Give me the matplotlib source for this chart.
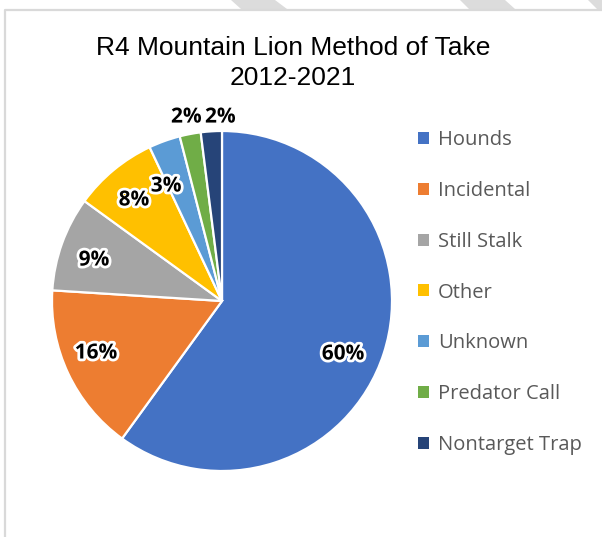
import matplotlib
matplotlib.use("Agg")
import matplotlib.pyplot as plt
import matplotlib.patheffects as pe
from matplotlib.patches import Polygon, Patch
from matplotlib.lines import Line2D

methods = ["Hounds", "Incidental", "Still Stalk", "Other", "Unknown", "Predator Call", "Nontarget Trap"]
shares = [60, 16, 9, 8, 3, 2, 2]
colors = ["#4472C4", "#ED7D31", "#A5A5A5", "#FFC000", "#5B9BD5", "#70AD47", "#264478"]
# data-label spots (pie units, radius = 1)
label_xy = [(0.712, -0.312), (-0.741, -0.306), (-0.753, 0.241), (-0.518, 0.594),
            (-0.329, 0.676), (-0.21, 1.082), (-0.01, 1.082)]

W, H = 602, 537
fig = plt.figure(figsize=(W / 100, H / 100), dpi=100)

# pie centred at (222, 301) px, radius 170 px
cx, cy, r = 222, 301, 170
ax = fig.add_axes([(cx - r) / W, (H - cy - r) / H, 2 * r / W, 2 * r / H])
wedges, _ = ax.pie(shares, colors=colors, startangle=90, counterclock=False, radius=1,
                   wedgeprops=dict(edgecolor="white", linewidth=1.6))
ax.set_xlim(-1, 1)
ax.set_ylim(-1, 1)
ax.set_aspect("equal")
ax.axis("off")

for v, (x, y) in zip(shares, label_xy):
    ax.text(x, y, f"{v}%", ha="center", va="center", fontsize=15, fontweight="bold",
            family=["Open Sans", "DejaVu Sans"], color="black",
            path_effects=[pe.withStroke(linewidth=4, foreground="white")])

fig.text(293 / W, 1 - 63 / H, "R4 Mountain Lion Method of Take\n2012-2021", ha="center", va="center",
         fontsize=19, family=["Liberation Sans", "DejaVu Sans"],
         color="black", linespacing=1.3)

handles = [Patch(facecolor=c, edgecolor="none") for c in colors]
fig.legend(handles, methods, loc="upper left", bbox_to_anchor=(408 / W, 1 - 120 / H),
           frameon=False, handlelength=0.55, handleheight=0.55, handletextpad=0.45,
           labelspacing=1.53, borderpad=0, prop={"family": ["Open Sans", "DejaVu Sans"], "size": 14.5},
           labelcolor="#595959")

# outer frame and the grey stripes along the top edge
fig.add_artist(Line2D([5 / W, 5 / W, 1], [0, 1 - 10 / H, 1 - 10 / H], transform=fig.transFigure,
                      color="#d9d9d9", linewidth=1.6))
for xs in [(231, 275, 287, 241), (460, 505, 515, 469), (588, 602, 602, 597)]:
    pts = [(xs[0] / W, 1), (xs[1] / W, 1), (xs[2] / W, 1 - 9 / H), (xs[3] / W, 1 - 9 / H)]
    fig.add_artist(Polygon(pts, closed=True, transform=fig.transFigure, facecolor="#dcdcdc",
                           edgecolor="none"))

fig.savefig("out.png", dpi=100)
